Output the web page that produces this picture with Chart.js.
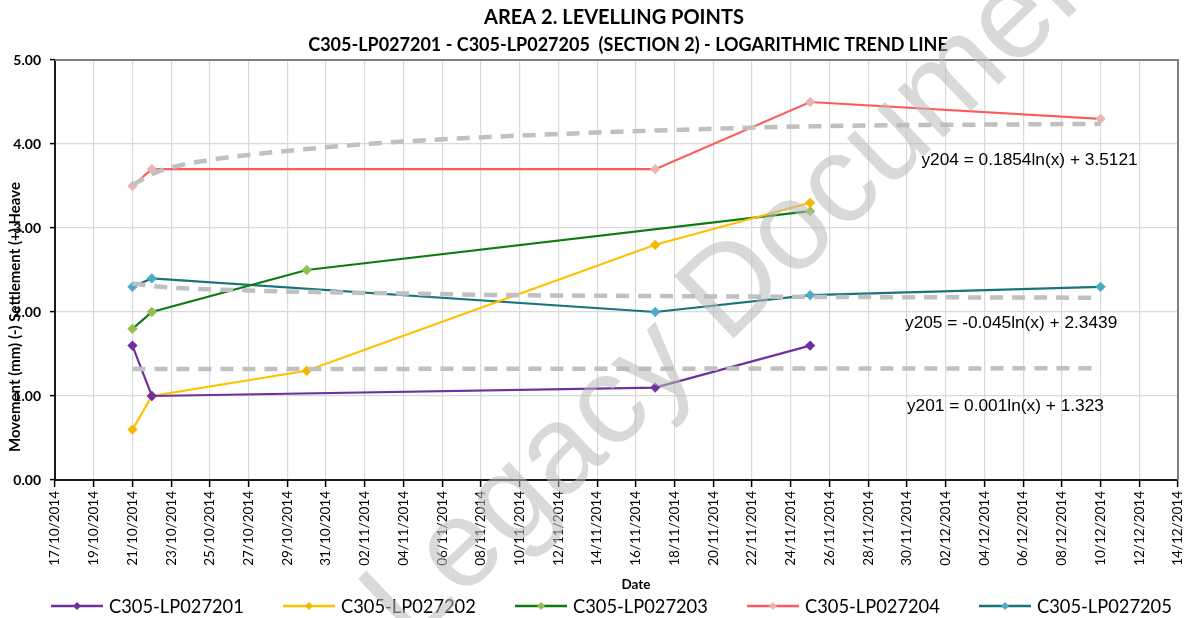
<!DOCTYPE html>
<html><head><meta charset="utf-8">
<script src="https://cdn.jsdelivr.net/npm/chart.js@4.4.1/dist/chart.umd.min.js"></script>
<style>html,body{margin:0;padding:0;background:#fff}#wrap{width:1188px;height:618px;position:relative}</style>
</head><body><div id="wrap"><canvas id="c"></canvas></div>
<script>
// ---------- DATA ----------
const titleLines = ['AREA 2. LEVELLING POINTS', 'C305-LP027201 - C305-LP027205  (SECTION 2) - LOGARITHMIC TREND LINE'];
const yAxisTitle = 'Movement (mm) (-) Settlement (+) Heave';
const xAxisTitle = 'Date';
const tickDates = ['17/10/2014','19/10/2014','21/10/2014','23/10/2014','25/10/2014','27/10/2014','29/10/2014','31/10/2014',
  '02/11/2014','04/11/2014','06/11/2014','08/11/2014','10/11/2014','12/11/2014','14/11/2014','16/11/2014','18/11/2014',
  '20/11/2014','22/11/2014','24/11/2014','26/11/2014','28/11/2014','30/11/2014','02/12/2014','04/12/2014','06/12/2014',
  '08/12/2014','10/12/2014','12/12/2014','14/12/2014'];
const yTicks = [0, 1, 2, 3, 4, 5];
const seriesNames = ['C305-LP027201','C305-LP027202','C305-LP027203','C305-LP027204','C305-LP027205'];

const dates201 = ['21/10/2014','22/10/2014','17/11/2014','25/11/2014'];
const values201 = [1.6, 1.0, 1.1, 1.6];
const dates202 = ['21/10/2014','22/10/2014','30/10/2014','17/11/2014','25/11/2014'];
const values202 = [0.6, 1.0, 1.3, 2.8, 3.3];
const dates203 = ['21/10/2014','22/10/2014','30/10/2014','25/11/2014'];
const values203 = [1.8, 2.0, 2.5, 3.2];
const dates204 = ['21/10/2014','22/10/2014','17/11/2014','25/11/2014','10/12/2014'];
const values204 = [3.5, 3.7, 3.7, 4.5, 4.3];
const dates205 = ['21/10/2014','22/10/2014','17/11/2014','25/11/2014','10/12/2014'];
const values205 = [2.3, 2.4, 2.0, 2.2, 2.3];

// trend lines, values
const trendDates = ['21/10/2014','22/10/2014','23/10/2014','25/10/2014','30/10/2014','04/11/2014','10/11/2014','17/11/2014','25/11/2014','10/12/2014'];
const trend204 = [3.51, 3.64, 3.72, 3.81, 3.94, 4.03, 4.10, 4.16, 4.21, 4.24];
const trend205 = [2.34, 2.31, 2.29, 2.27, 2.24, 2.22, 2.20, 2.19, 2.18, 2.17];
const trendDates201 = ['21/10/2014','10/12/2014'];
const trend201 = [1.32, 1.33];

const equationTexts = ['y204 = 0.1854ln(x) + 3.5121', 'y205 = -0.045ln(x) + 2.3439', 'y201 = 0.001ln(x) + 1.323'];
const watermarkText = 'Legacy Document';

// ---------- HELPERS ----------
function dayNum(s){const p=s.split('/').map(Number);return (Date.UTC(p[2],p[1]-1,p[0])-Date.UTC(2014,9,17))/86400000;}
function pts(dates, vals){return dates.map((d,i)=>({x:dayNum(d), y:vals[i]}));}

const lineColors = ['#7030a0','#ffc000','#0e7a12','#ff5a5a','#17757a'];
const pointColors = ['#7030a0','#f2b800','#92c050','#e8b4b4','#4bacc6'];
const seriesPts = [pts(dates201,values201),pts(dates202,values202),pts(dates203,values203),pts(dates204,values204),pts(dates205,values205)];

const datasets = seriesPts.map((d,i)=>({
  label: seriesNames[i], data: d, borderColor: lineColors[i], backgroundColor: pointColors[i],
  pointBackgroundColor: pointColors[i], pointBorderColor: pointColors[i], pointStyle:'rectRot',
  pointRadius: 3.6, borderWidth: 2.2, tension: 0, order: 2
}));
[[trendDates,trend204],[trendDates,trend205],[trendDates201,trend201]].forEach(t=>{
  datasets.push({label:'trend', data: pts(t[0],t[1]), borderColor:'#c0c0c0', borderWidth:4.5, borderDash:[13,9],
    pointRadius:0, cubicInterpolationMode:'monotone', order:1});
});

const FONT = 'Lato, "Open Sans", sans-serif';
// equation label anchors (date + day nudge, value)
const eqAnchors = [{d:'30/11/2014', dd:0.75, v:3.81},{d:'30/11/2014', dd:-0.1, v:1.87},{d:'30/11/2014', dd:0, v:0.88}];

const decor = {
  id:'decor',
  afterDatasetsDraw(chart){
    const ctx = chart.ctx, a = chart.chartArea, xs = chart.scales.x, ys = chart.scales.y;
    ctx.save();
    // plot frame top/right
    ctx.strokeStyle = '#7f7f7f'; ctx.lineWidth = 2;
    ctx.beginPath(); ctx.moveTo(a.left, a.top); ctx.lineTo(a.right, a.top); ctx.lineTo(a.right, a.bottom); ctx.stroke();
    // equations
    ctx.fillStyle = '#000'; ctx.font = '17.3px "Liberation Sans", Arial, sans-serif';
    ctx.textAlign = 'left'; ctx.textBaseline = 'middle';
    equationTexts.forEach((t,i)=>{
      ctx.fillText(t, xs.getPixelForValue(dayNum(eqAnchors[i].d) + eqAnchors[i].dd), ys.getPixelForValue(eqAnchors[i].v));
    });
    ctx.restore();
  },
  afterDraw(chart){
    const ctx = chart.ctx;
    ctx.save();
    // title
    ctx.fillStyle = '#000'; ctx.textAlign = 'center'; ctx.textBaseline = 'middle';
    ctx.font = 'bold 20px ' + FONT;
    ctx.fillText(titleLines[0], 614, 18);
    ctx.font = 'bold 18px ' + FONT;
    ctx.fillText(titleLines[1], 628, 45);
    // y axis title
    ctx.save(); ctx.translate(15, 317); ctx.rotate(-Math.PI/2);
    ctx.font = 'bold 15px ' + FONT; ctx.fillText(yAxisTitle, 0, 0); ctx.restore();
    // x axis title
    ctx.font = 'bold 13.5px ' + FONT; ctx.fillText(xAxisTitle, 636, 585);
    // legend
    ctx.textAlign = 'left'; ctx.font = '18.3px ' + FONT;
    seriesNames.forEach((n,i)=>{
      const x0 = 51 + i*232, y0 = 606;
      ctx.strokeStyle = lineColors[i]; ctx.lineWidth = 2.5;
      ctx.beginPath(); ctx.moveTo(x0, y0); ctx.lineTo(x0+52, y0); ctx.stroke();
      ctx.fillStyle = pointColors[i];
      ctx.beginPath(); ctx.moveTo(x0+26, y0-4); ctx.lineTo(x0+30, y0); ctx.lineTo(x0+26, y0+4); ctx.lineTo(x0+22, y0); ctx.closePath(); ctx.fill();
      ctx.fillStyle = '#000'; ctx.fillText(n, x0+58, y0+1);
    });
    // watermark
    ctx.save(); ctx.translate(410, 648); ctx.rotate(-Math.atan2(560, 585));
    ctx.fillStyle = 'rgba(185,185,185,0.55)'; ctx.font = '125px "Liberation Sans", Arial, sans-serif';
    ctx.textAlign = 'left'; ctx.textBaseline = 'alphabetic';
    ctx.fillText(watermarkText, 0, 0); ctx.restore();
    ctx.restore();
  }
};

new Chart(document.getElementById('c'), {
  type: 'line',
  data: { datasets },
  options: {
    responsive: true, maintainAspectRatio: false, animation: false,
    layout: { padding: { top: 60, right: 10, left: 0, bottom: 0 } },
    plugins: { legend: { display: false }, title: { display: false }, tooltip: { enabled: false } },
    scales: {
      x: {
        type: 'linear', min: dayNum(tickDates[0]), max: dayNum(tickDates[tickDates.length-1]),
        afterBuildTicks: ax => { ax.ticks = tickDates.map(s => ({ value: dayNum(s) })); },
        afterFit: ax => { ax.height = 138; ax.paddingRight = 0; ax.paddingLeft = 0; },
        ticks: { minRotation: 90, maxRotation: 90, autoSkip: false, color: '#000', font: { family: FONT, size: 13.5 }, padding: 4,
          callback: v => { const i = tickDates.findIndex(s => dayNum(s) === v); return i >= 0 ? tickDates[i] : ''; } },
        grid: { color: '#d9d9d9', lineWidth: 1.2, tickColor: '#000', tickLength: 7, tickWidth: 1.5 },
        border: { color: '#1a1a1a', width: 2 }
      },
      y: {
        min: 0, max: 5,
        afterBuildTicks: ax => { ax.ticks = yTicks.map(v => ({ value: v })); },
        afterFit: ax => { ax.width = 55; ax.paddingTop = 0; ax.paddingBottom = 0; },
        ticks: { color: '#000', font: { family: FONT, size: 14, weight: 'bold' }, padding: 9, callback: v => Number(v).toFixed(2) },
        grid: { color: '#d9d9d9', lineWidth: 1.2, tickColor: '#000', tickLength: 5, tickWidth: 1.5 },
        border: { color: '#1a1a1a', width: 2 }
      }
    }
  },
  plugins: [decor]
});
</script></body></html>
